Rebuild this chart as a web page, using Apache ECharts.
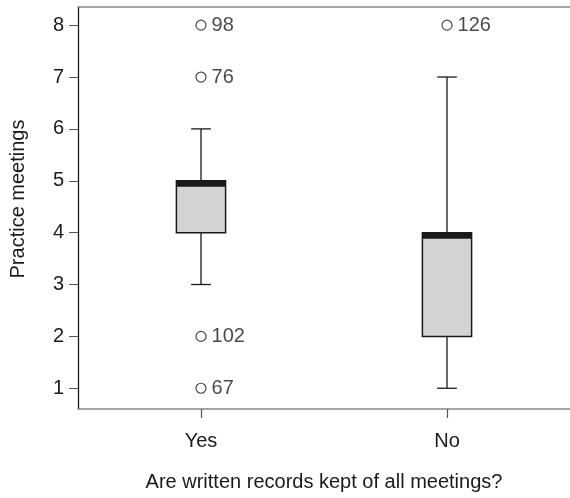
<!DOCTYPE html>
<html lang="en">
<head>
    <meta charset="UTF-8" />
    <title>Practice meetings</title>
    <script src="https://cdn.jsdelivr.net/npm/echarts@6/dist/echarts.min.js"></script>
    <style type="text/css">
        html, body { margin: 0; padding: 0; background: #fff; }
        #boxChart { width: 570px; height: 498px; }
    </style>
</head>
<body>
    <div id="boxChart"></div>
    <script type="text/javascript">
        // data
        var categories = ['Yes', 'No'];
        var whiskerLow = [3, 1];
        var q1 = [4, 2];
        var median = [5, 4];
        var q3 = [5, 4];
        var whiskerHigh = [6, 7];
        var outlierCat = ['Yes', 'Yes', 'Yes', 'Yes', 'No'];
        var outlierVal = [8, 7, 2, 1, 8];
        var outlierId = ['98', '76', '102', '67', '126'];
        var yTicks = [1, 2, 3, 4, 5, 6, 7, 8];

        var font = 'Liberation Sans, Arial, sans-serif';
        var ink = '#1a1a1a';

        var boxData = [];
        for (var i = 0; i < categories.length; i++) {
            boxData.push([i, whiskerLow[i], q1[i], median[i], q3[i], whiskerHigh[i]]);
        }
        var outlierData = [];
        for (var j = 0; j < outlierVal.length; j++) {
            outlierData.push({ name: outlierId[j], value: [outlierCat[j], outlierVal[j]] });
        }

        function renderBox(params, api) {
            var idx = api.value(0);
            var band = api.size([1, 0])[0];
            var half = band * 0.1;
            var cap = band * 0.04;
            var pLow = api.coord([idx, api.value(1)]);
            var pQ1 = api.coord([idx, api.value(2)]);
            var pMed = api.coord([idx, api.value(3)]);
            var pQ3 = api.coord([idx, api.value(4)]);
            var pHigh = api.coord([idx, api.value(5)]);
            var x = pQ1[0];
            var line = { stroke: ink, lineWidth: 1.3 };
            return {
                type: 'group',
                children: [
                    { type: 'line', shape: { x1: x, y1: pQ3[1], x2: x, y2: pHigh[1] }, style: line },
                    { type: 'line', shape: { x1: x, y1: pQ1[1], x2: x, y2: pLow[1] }, style: line },
                    { type: 'line', shape: { x1: x - cap, y1: pHigh[1], x2: x + cap, y2: pHigh[1] }, style: line },
                    { type: 'line', shape: { x1: x - cap, y1: pLow[1], x2: x + cap, y2: pLow[1] }, style: line },
                    { type: 'rect', shape: { x: x - half, y: pQ3[1], width: half * 2, height: pQ1[1] - pQ3[1] },
                      style: { fill: '#d3d4d6', stroke: ink, lineWidth: 1.5 } },
                    { type: 'rect', shape: { x: x - half, y: pMed[1], width: half * 2, height: 6 },
                      style: { fill: ink } }
                ]
            };
        }

        var chart = echarts.init(document.getElementById('boxChart'));
        var option = {
            animation: false,
            backgroundColor: '#fff',
            grid: { left: 76, right: 0, top: 7, bottom: 89 },
            xAxis: [
                {
                    type: 'category',
                    data: categories,
                    boundaryGap: true,
                    name: 'Are written records kept of all meetings?',
                    nameLocation: 'middle',
                    nameGap: 63,
                    nameTextStyle: { fontFamily: font, fontSize: 20, color: ink },
                    axisLine: { lineStyle: { color: '#888', width: 1.5 } },
                    axisTick: { show: true, alignWithLabel: true, length: 9, lineStyle: { color: '#555', width: 1.2 } },
                    axisLabel: { fontFamily: font, fontSize: 20, color: ink, margin: 22 },
                    splitLine: { show: false }
                },
                {
                    // top frame line only
                    type: 'category',
                    position: 'top',
                    data: categories,
                    axisLine: { lineStyle: { color: '#888', width: 1.5 } },
                    axisTick: { show: false },
                    axisLabel: { show: false },
                    splitLine: { show: false }
                }
            ],
            yAxis: {
                type: 'value',
                min: 0.6,
                max: 8.35,
                name: 'Practice meetings',
                nameLocation: 'middle',
                nameGap: 50,
                nameTextStyle: { fontFamily: font, fontSize: 20, color: ink, padding: [0, 0, 0, 18] },
                axisLine: { show: true, lineStyle: { color: ink, width: 1.3 } },
                axisTick: { show: true, length: 9, customValues: yTicks, lineStyle: { color: '#555' } },
                axisLabel: { fontFamily: font, fontSize: 20, color: ink, margin: 14, customValues: yTicks },
                splitLine: { show: false }
            },
            series: [
                {
                    type: 'custom',
                    renderItem: renderBox,
                    encode: { x: 0, y: [1, 2, 3, 4, 5] },
                    data: boxData,
                    z: 2
                },
                {
                    type: 'scatter',
                    symbol: 'circle',
                    symbolSize: 10,
                    itemStyle: { color: '#fff', borderColor: ink, borderWidth: 1.2 },
                    label: {
                        show: true,
                        position: 'right',
                        distance: 5,
                        formatter: '{b}',
                        fontFamily: font,
                        fontSize: 20,
                        color: ink
                    },
                    data: outlierData,
                    z: 3
                }
            ]
        };
        chart.setOption(option);
    </script>
</body>
</html>
